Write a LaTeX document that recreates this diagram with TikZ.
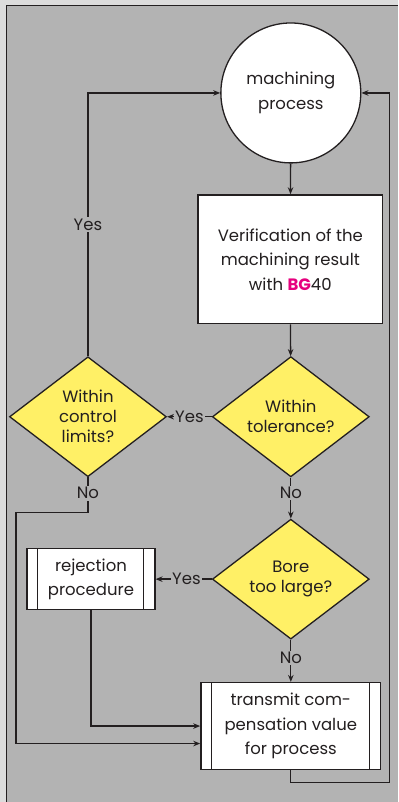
\documentclass[tikz,border=0pt]{standalone}
\usepackage{fontspec}
\setmainfont{Poppins}
\usetikzlibrary{shapes.geometric,arrows.meta}
\definecolor{outerbg}{HTML}{DCDCDC}
\definecolor{panel}{HTML}{B3B3B3}
\definecolor{dyellow}{HTML}{FFF066}
\definecolor{bgmag}{HTML}{E6007E}
\definecolor{ink}{HTML}{231F20}
\tikzset{
  txt/.style={font=\fontsize{16.5}{24.5}\selectfont, text=ink, align=center},
  proccircle/.style={txt, circle, draw=ink, line width=1.3pt, fill=white, minimum size=140pt, inner sep=0pt},
  procbox/.style={txt, rectangle, draw=ink, line width=1.3pt, fill=white, inner sep=0pt},
  dec/.style={txt, font=\fontsize{16.5}{20}\selectfont, diamond, draw=ink, line width=1.3pt, fill=dyellow, minimum width=157pt, minimum height=120pt, inner sep=0pt},
  subproc/.style={procbox, path picture={
      \draw[ink, line width=1pt] ([xshift=11pt]path picture bounding box.north west) -- ([xshift=11pt]path picture bounding box.south west);
      \draw[ink, line width=1pt] ([xshift=-11pt]path picture bounding box.north east) -- ([xshift=-11pt]path picture bounding box.south east);}},
  arr/.style={draw=ink, line width=1.3pt, -{Stealth[length=7pt,width=5.5pt]}},
  conn/.style={draw=ink, line width=1.3pt},
  lbl/.style={txt, fill=panel, inner sep=1.5pt}
}
\begin{document}
\begin{tikzpicture}[x=1pt,y=-1pt]
\fill[outerbg] (0,0) rectangle (398,802);
\fill[panel] (7,6) rectangle (398,802);
\draw[ink, line width=1pt] (398,6) -- (7,6) -- (7,802);
\useasboundingbox (0,0) rectangle (398,802);

\node[proccircle] (mp) at (291,93) {machining\\process};
\node[procbox, minimum width=185pt, minimum height=129pt] (ver) at (290.5,259.5) {Verification of the\\machining result\\with \textcolor{bgmag}{\bfseries BG}40};
\node[dec] (tol) at (291,417) {Within\\tolerance?};
\node[dec] (ctl) at (88,417) {Within\\control\\limits?};
\node[dec] (bore) at (291,579.5) {Bore\\too large?};
\node[subproc, minimum width=128pt, minimum height=61pt] (rej) at (91,579.5) {rejection\\procedure};
\node[subproc, minimum width=180pt, minimum height=87pt] (tx) at (291,726.5) {transmit com-\\pensation value\\for process};

\coordinate (c1) at (88,513);
\coordinate (c2) at (16,513);
\coordinate (r1) at (390,783);

\draw[arr] (mp) -- (ver);
\draw[arr] (ver) -- (tol);
\draw[arr] (tol.west) -- (ctl.east) node[lbl, midway] {Yes};
\draw[arr] (ctl.north) |- (mp.west) node[lbl, pos=0.25] {Yes};
\draw[arr] (tol.south) -- (bore.north) node[lbl, pos=0.38] {No};
\draw[arr] (bore.west) -- (rej.east) node[lbl, pos=0.45] {Yes};
\draw[arr] (bore.south) -- (tx.north) node[lbl, pos=0.43] {No};
\draw[arr] (rej.south) |- (tx.west);
\draw[conn] (ctl.south) -- (c1) node[lbl, pos=0.45] {No};
\draw[arr] (c1) -- (c2) |- ([yshift=-17.5pt]tx.west);
\draw[arr] (tx.south) |- (r1) |- (mp.east);
\end{tikzpicture}
\end{document}
